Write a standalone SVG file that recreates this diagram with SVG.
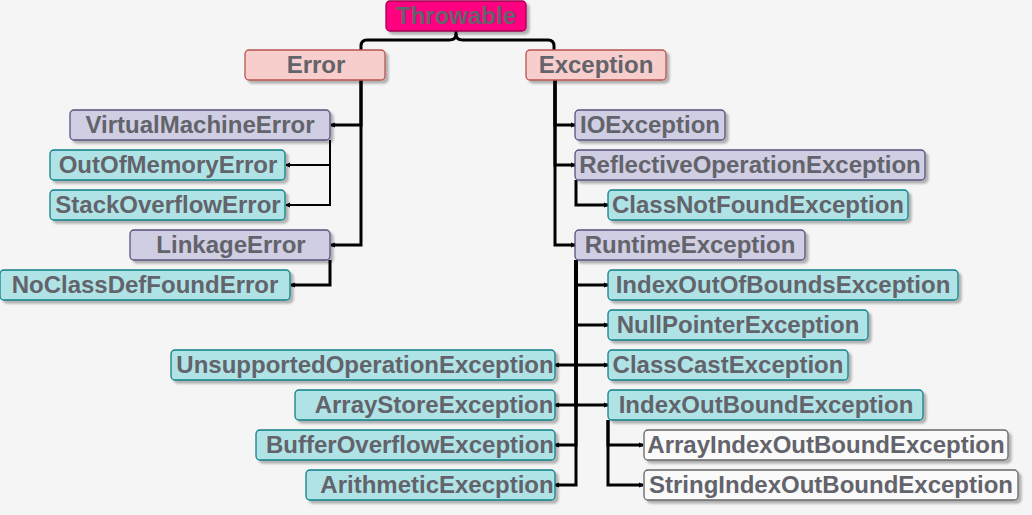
<svg xmlns="http://www.w3.org/2000/svg" width="1032" height="515" viewBox="0 0 1032 515">
<defs>
<filter id="sh" x="-10%" y="-30%" width="120%" height="170%">
<feDropShadow dx="3" dy="3" stdDeviation="1.2" flood-color="#000" flood-opacity="0.28"/>
</filter>
<marker id="ah" markerUnits="userSpaceOnUse" markerWidth="6" markerHeight="8" refX="4" refY="4" orient="auto">
<path d="M0,1.5 Q4,3 4,4 Q4,5 0,6.5 z" fill="#000"/>
</marker>
</defs>
<style>
.box rect{stroke-width:1.3;filter:url(#sh)}
.box text{font-family:"Liberation Sans",Arial,Helvetica,sans-serif;font-weight:bold;font-size:24px;fill:#62636b;text-anchor:middle}
.root rect{fill:#ff0080;stroke:#a3004f}
.pink rect{fill:#f8cecc;stroke:#b85450}
.purple rect{fill:#d0cee2;stroke:#56517e}
.teal rect{fill:#b0e3e6;stroke:#0e8088}
.white rect{fill:#fafafa;stroke:#666666}
.c{fill:none;stroke:#000;stroke-width:3;marker-end:url(#ah)}
.thin{stroke-width:2}
.brace{fill:none;stroke:#000;stroke-width:3}
</style>
<rect width="1032" height="515" fill="#f5f5f5"/>
<g id="connectors">
<path class="brace" d="M456,31 L456,34 Q456,40 449,40 L367,40 Q361,40 361,46 L361,50"/>
<path class="brace" d="M456,34 Q456,40 463,40 L548,40 Q554,40 554,46 L554,50"/>
<path class="c" d="M361,80 V125 H331"/>
<path class="c" d="M361,80 V245 H331"/>
<path class="c thin" d="M330,140 V165 H286"/>
<path class="c thin" d="M330,140 V205 H286"/>
<path class="c" d="M330,260 V285 H291"/>
<path class="c" d="M555,80 V125 H575"/>
<path class="c" d="M555,80 V165 H575"/>
<path class="c" d="M555,80 V245 H575"/>
<path class="c" d="M576,180 V205 H608"/>
<path class="c" d="M576,260 V285 H608"/>
<path class="c" d="M576,260 V325 H608"/>
<path class="c" d="M576,260 V365 H608"/>
<path class="c" d="M576,260 V405 H608"/>
<path class="c" d="M576,260 V365 H555"/>
<path class="c" d="M576,260 V405 H555"/>
<path class="c" d="M576,260 V445 H555"/>
<path class="c" d="M576,260 V485 H555"/>
<path class="c" d="M608,420 V445 H643"/>
<path class="c" d="M608,420 V485 H643"/>
</g>
<g id="throwable" class="box root"><rect x="386" y="1" width="140" height="30" rx="4"/><text x="456" y="24">Throwable</text></g>
<g id="error" class="box pink"><rect x="245" y="50" width="140" height="30" rx="4"/><text x="316" y="73">Error</text></g>
<g id="exception" class="box pink"><rect x="526" y="50" width="140" height="30" rx="4"/><text x="596" y="73">Exception</text></g>
<g id="virtualmachineerror" class="box purple"><rect x="70" y="110" width="260" height="30" rx="4"/><text x="200" y="133">VirtualMachineError</text></g>
<g id="outofmemoryerror" class="box teal"><rect x="50" y="150" width="235" height="30" rx="4"/><text x="168" y="173">OutOfMemoryError</text></g>
<g id="stackoverflowerror" class="box teal"><rect x="50" y="190" width="235" height="30" rx="4"/><text x="168" y="213">StackOverflowError</text></g>
<g id="linkageerror" class="box purple"><rect x="130" y="230" width="200" height="30" rx="4"/><text x="231" y="253">LinkageError</text></g>
<g id="noclassdeffounderror" class="box teal"><rect x="0" y="270" width="290" height="30" rx="4"/><text x="145" y="293">NoClassDefFoundError</text></g>
<g id="ioexception" class="box purple"><rect x="575" y="110" width="150" height="30" rx="4"/><text x="650" y="133">IOException</text></g>
<g id="reflectiveoperationexception" class="box purple"><rect x="575" y="150" width="350" height="30" rx="4"/><text x="750" y="173">ReflectiveOperationException</text></g>
<g id="classnotfoundexception" class="box teal"><rect x="608" y="190" width="300" height="30" rx="4"/><text x="758" y="213">ClassNotFoundException</text></g>
<g id="runtimeexception" class="box purple"><rect x="575" y="230" width="230" height="30" rx="4"/><text x="690" y="253">RuntimeException</text></g>
<g id="indexoutofboundsexception" class="box teal"><rect x="608" y="270" width="350" height="30" rx="4"/><text x="783" y="293">IndexOutOfBoundsException</text></g>
<g id="nullpointerexception" class="box teal"><rect x="608" y="310" width="260" height="30" rx="4"/><text x="738" y="333">NullPointerException</text></g>
<g id="classcastexception" class="box teal"><rect x="608" y="350" width="240" height="30" rx="4"/><text x="728" y="373">ClassCastException</text></g>
<g id="indexoutboundexception" class="box teal"><rect x="608" y="390" width="315" height="30" rx="4"/><text x="766" y="413">IndexOutBoundException</text></g>
<g id="arrayindexoutboundexception" class="box white"><rect x="644" y="430" width="364" height="30" rx="4"/><text x="826" y="453">ArrayIndexOutBoundException</text></g>
<g id="stringindexoutboundexception" class="box white"><rect x="644" y="470" width="374" height="30" rx="4"/><text x="831" y="493">StringIndexOutBoundException</text></g>
<g id="unsupportedoperationexception" class="box teal"><rect x="171" y="350" width="384" height="30" rx="4"/><text x="365" y="373">UnsupportedOperationException</text></g>
<g id="arraystoreexception" class="box teal"><rect x="295" y="390" width="260" height="30" rx="4"/><text x="434" y="413">ArrayStoreException</text></g>
<g id="bufferoverflowexception" class="box teal"><rect x="256" y="430" width="299" height="30" rx="4"/><text x="410" y="453">BufferOverflowException</text></g>
<g id="arithmeticexecption" class="box teal"><rect x="306" y="470" width="249" height="30" rx="4"/><text x="437" y="493">ArithmeticExecption</text></g>
</svg>
